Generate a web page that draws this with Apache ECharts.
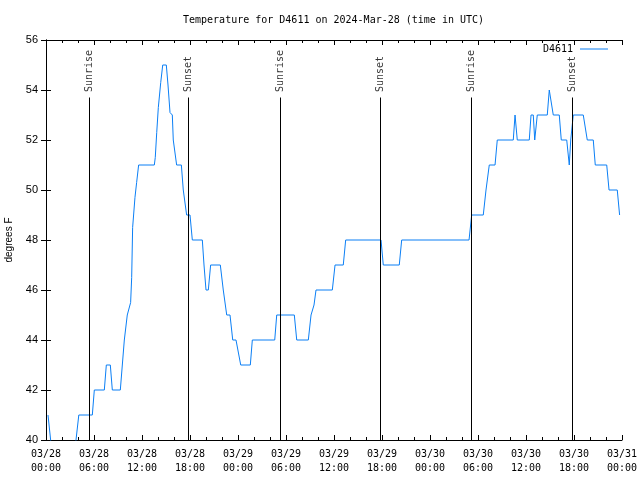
<!DOCTYPE html>
<html>
<head>
<meta charset="utf-8">
<script src="https://cdn.jsdelivr.net/npm/echarts@6/dist/echarts.min.js"></script>
<style>html,body{margin:0;padding:0;background:#fff}#c{width:640px;height:480px}</style>
</head>
<body>
<div id="c"></div>
<script>
// hours since 2024-03-28 00:00 UTC
var hours = [0.25,0.58,0.9,3.4,4.1,5.79,6.04,7.29,7.54,8.04,8.29,9.29,9.54,9.79,10.16,10.58,10.71,10.83,11.12,11.33,11.58,
  13.54,13.66,13.84,14.04,14.34,14.59,15.04,15.25,15.5,15.79,15.91,16.33,16.92,17.16,17.58,18.0,18.29,
  19.54,19.75,20.0,20.29,20.58,21.79,22.16,22.59,23.0,23.34,23.75,24.34,25.54,25.79,28.59,28.84,31.04,31.34,
  32.79,33.13,33.5,33.75,35.79,36.13,37.16,37.46,41.88,42.16,44.16,44.46,52.88,53.21,54.66,55.0,55.41,56.13,56.41,
  58.41,58.63,58.91,60.41,60.63,60.91,61.09,61.41,62.66,62.91,63.13,63.41,64.16,64.41,65.09,65.41,65.59,65.91,
  67.16,67.66,68.41,68.66,70.09,70.38,71.41,71.7];
var temps = [41,40,39,39,41,41,42,42,43,43,42,42,43,44,45,45.5,46.5,48.5,49.7,50.3,51,
  51,51.3,52.3,53.3,54.3,55,55,54.2,53.1,53,52,51,51,50,49,49,48,
  48,47,46,46,47,47,46,45,45,44,44,43,43,44,44,45,45,44,
  44,45,45.4,46,46,47,47,48,48,47,47,48,48,49,49,50,51,51,52,
  52,53,52,52,53,53,52,53,53,54,54,53,53,52,52,51,52,53,
  53,52,52,51,51,50,50,49];
var sunHours = [5.42,17.79,29.25,41.79,53.17,65.79];
var sunNames = ['Sunrise','Sunset','Sunrise','Sunset','Sunrise','Sunset'];
var xTickLabels = ['03/28\n00:00','03/28\n06:00','03/28\n12:00','03/28\n18:00','03/29\n00:00','03/29\n06:00','03/29\n12:00','03/29\n18:00','03/30\n00:00','03/30\n06:00','03/30\n12:00','03/30\n18:00','03/31\n00:00'];

var seriesData = hours.map(function(h,i){return [h,temps[i]];});
var sunLineTop = 53.7, sunLabelBase = 53.92;
var mono = 'DejaVu Sans Mono', sans = 'Liberation Sans';
var blue = '#0b7ff5';

var chart = echarts.init(document.getElementById('c'), null, {renderer:'canvas'});
var axisCommon = {
  axisLine:{show:true,lineStyle:{color:'#000',width:1}},
  splitLine:{show:false}
};
chart.setOption({
  animation:false,
  backgroundColor:'#fff',
  title:{text:'Temperature for D4611 on 2024-Mar-28 (time in UTC)',left:183,top:15,padding:0,
    textStyle:{fontFamily:mono,fontSize:10,fontWeight:'normal',color:'#000'}},
  legend:{data:[{name:'D4611',icon:'rect'}],right:32,top:44,padding:0,align:'right',itemWidth:28,itemHeight:1,itemGap:0,
    textStyle:{fontFamily:mono,fontSize:10,color:'#000',padding:[0,2,0,0]}},
  grid:{left:46,right:18,top:40,bottom:40,containLabel:false,outerBoundsMode:'none'},
  xAxis:[
    Object.assign({type:'value',min:0,max:72,interval:6,position:'bottom',
      axisTick:{inside:true,length:5,lineStyle:{color:'#000'}},
      minorTick:{show:true,splitNumber:3,length:3,lineStyle:{color:'#000'}},
      axisLabel:{margin:7,fontFamily:mono,fontSize:10,color:'#000',lineHeight:14,
        formatter:function(v){return xTickLabels[Math.round(v/6)];}}},axisCommon),
    Object.assign({type:'value',min:0,max:72,interval:6,position:'top',
      axisTick:{inside:true,length:5,lineStyle:{color:'#000'}},
      minorTick:{show:true,splitNumber:3,length:3,lineStyle:{color:'#000'}},
      axisLabel:{show:false}},axisCommon)
  ],
  yAxis:[
    Object.assign({type:'value',min:40,max:56,interval:2,position:'left',
      name:'degrees F',nameLocation:'middle',nameGap:32,nameRotate:90,
      nameTextStyle:{fontFamily:sans,fontSize:10,color:'#000'},
      axisTick:{inside:true,length:5,lineStyle:{color:'#000'}},
      axisLabel:{margin:8,fontFamily:sans,fontSize:11,color:'#000'}},axisCommon),
    Object.assign({type:'value',min:40,max:56,interval:2,position:'right',
      axisTick:{inside:true,length:5,lineStyle:{color:'#000'}},
      axisLabel:{show:false}},axisCommon)
  ],
  series:[
    {name:'D4611',type:'line',data:seriesData,symbol:'none',showSymbol:false,sampling:null,
     lineStyle:{color:blue,width:1},itemStyle:{color:blue},clip:true,z:3,
     markLine:{silent:true,symbol:['none','none'],animation:false,
       lineStyle:{color:'#000',width:1,type:'solid'},label:{show:false},
       data:sunHours.map(function(h){return [{coord:[h,40]},{coord:[h,sunLineTop]}];})}},
    {name:'sun',type:'scatter',data:sunHours.map(function(h){return [h,sunLabelBase];}),
     symbolSize:0,silent:true,z:4,
     label:{show:true,position:'inside',rotate:90,align:'left',verticalAlign:'middle',
       fontFamily:mono,fontSize:10,color:'#000',
       formatter:function(p){return sunNames[p.dataIndex];}}}
  ]
});
</script>
</body>
</html>
